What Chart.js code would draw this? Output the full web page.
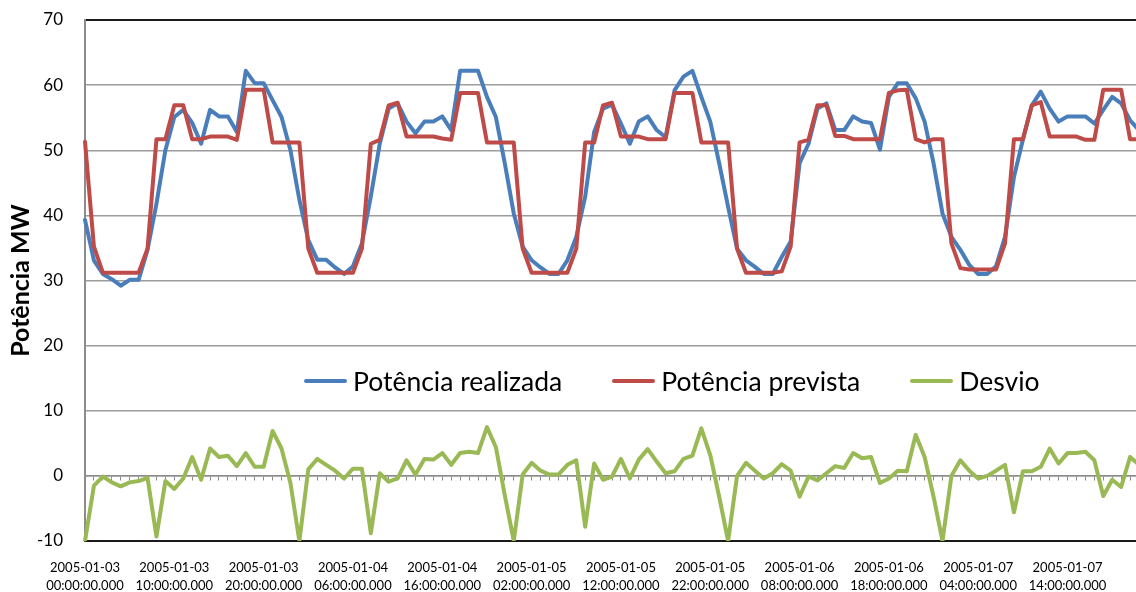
<!DOCTYPE html>
<html lang="pt">
<head>
    <meta charset="UTF-8">
    <title>Potência realizada vs prevista</title>
    <script src="https://cdn.jsdelivr.net/npm/chart.js"></script>
    <style>
        html, body { margin: 0; padding: 0; overflow: hidden; background: #fff; }
        #wrap { position: absolute; left: 0; top: 0; width: 1139px; height: 592px; }
        #legend { position: absolute; left: 304px; top: 365px; display: flex; align-items: center;
                  font-family: Lato, sans-serif; font-size: 26.5px; color: #000; white-space: nowrap; }
        #legend .item { display: flex; align-items: center; margin-right: 50px; }
        #legend .swatch { width: 43px; height: 4px; border-radius: 2px; margin-right: 6px; }
    </style>
</head>
<body>
    <div id="wrap"><canvas id="myChart"></canvas></div>
    <div id="legend"></div>
    <script>
        // hourly values, 2005-01-03 00:00 onwards
        const realizada = [
            39.3, 33.1, 31.0, 30.2, 29.2, 30.1, 30.1, 34.7, 41.8, 50.0,
            55.1, 56.2, 54.2, 51.0, 56.2, 55.2, 55.2, 52.8, 62.2, 60.3,
            60.3, 57.7, 55.1, 50.0, 42.4, 36.2, 33.2, 33.2, 32.0, 31.0,
            32.2, 35.7, 42.9, 51.0, 56.4, 57.2, 54.4, 52.6, 54.4, 54.4,
            55.2, 53.1, 62.2, 62.2, 62.2, 58.2, 55.1, 48.0, 40.3, 35.2,
            33.1, 32.0, 31.0, 31.0, 33.1, 36.7, 42.9, 52.8, 56.4, 57.0,
            54.1, 51.0, 54.4, 55.2, 53.1, 52.0, 59.2, 61.3, 62.2, 58.2,
            54.4, 48.0, 41.3, 34.9, 33.1, 32.1, 31.0, 31.0, 33.6, 36.0,
            48.0, 51.0, 56.4, 57.2, 53.1, 53.1, 55.2, 54.4, 54.2, 50.1,
            58.2, 60.3, 60.3, 58.0, 54.4, 48.0, 40.3, 36.7, 34.7, 32.4,
            31.0, 31.0, 32.2, 36.7, 45.9, 51.6, 56.9, 59.0, 56.4, 54.4,
            55.2, 55.2, 55.2, 54.1, 56.2, 58.2, 57.2, 54.6, 53.1
        ];
        const prevista = [
            51.3, 35.2, 31.2, 31.2, 31.2, 31.2, 31.2, 34.9, 51.7, 51.7,
            56.9, 56.9, 51.7, 51.7, 52.1, 52.1, 52.1, 51.6, 59.3, 59.3,
            59.3, 51.2, 51.2, 51.2, 51.2, 34.9, 31.2, 31.2, 31.2, 31.2,
            31.2, 34.9, 51.0, 51.6, 56.9, 57.3, 52.1, 52.1, 52.1, 52.1,
            51.8, 51.6, 58.8, 58.8, 58.8, 51.2, 51.2, 51.2, 51.2, 34.9,
            31.2, 31.2, 31.2, 31.2, 31.2, 34.9, 51.2, 51.2, 56.9, 57.3,
            52.1, 52.1, 52.1, 51.7, 51.7, 51.7, 58.8, 58.8, 58.8, 51.2,
            51.2, 51.2, 51.2, 34.9, 31.2, 31.2, 31.2, 31.2, 31.4, 35.2,
            51.2, 51.6, 56.9, 56.9, 52.2, 52.2, 51.7, 51.7, 51.7, 51.7,
            58.8, 59.2, 59.3, 51.7, 51.2, 51.7, 51.7, 35.7, 31.9, 31.7,
            31.7, 31.7, 31.7, 35.7, 51.7, 51.7, 56.9, 57.4, 52.1, 52.1,
            52.1, 52.1, 51.6, 51.6, 59.3, 59.3, 59.3, 51.7, 51.7
        ];
        const desvio = [
            -10, -1.5, -0.1, -1.0, -1.6, -1.0, -0.8, -0.3, -9.3, -0.8,
            -2.0, -0.4, 2.9, -0.6, 4.2, 2.9, 3.1, 1.5, 3.5, 1.4,
            1.4, 6.9, 4.2, -1.1, -10, 1.0, 2.6, 1.7, 0.8, -0.4,
            1.1, 1.1, -8.8, 0.4, -0.9, -0.4, 2.4, 0.2, 2.6, 2.5,
            3.5, 1.7, 3.5, 3.7, 3.5, 7.5, 4.4, -3.0, -10, 0.2,
            2.0, 0.8, 0.2, 0.2, 1.7, 2.4, -7.8, 1.9, -0.6, -0.1,
            2.6, -0.4, 2.5, 4.1, 2.2, 0.4, 0.7, 2.6, 3.1, 7.3,
            3.2, -3.2, -10, 0.0, 2.0, 0.8, -0.4, 0.4, 1.8, 0.8,
            -3.2, -0.1, -0.7, 0.4, 1.5, 1.2, 3.5, 2.7, 2.9, -1.1,
            -0.4, 0.8, 0.7, 6.3, 2.9, -3.2, -10, 0.0, 2.4, 0.8,
            -0.4, 0.0, 0.8, 1.7, -5.6, 0.7, 0.7, 1.4, 4.2, 1.9,
            3.5, 3.5, 3.7, 2.4, -3.1, -0.6, -1.7, 2.9, 1.7
        ];

        const seriesNames = ['Potência realizada', 'Potência prevista', 'Desvio'];
        const seriesColors = ['#4A7EBB', '#BE4B48', '#98B954'];
        const yTicks = { min: -10, max: 70, step: 10 };
        const labelStep = 10; // one date label every 10 hours

        // category labels: one per hour
        const startTime = Date.UTC(2005, 0, 3, 0, 0, 0);
        const categories = [];
        for (let h = 0; h < realizada.length; h++) {
            const iso = new Date(startTime + h * 3600000).toISOString();
            categories.push(iso.slice(0, 10) + ' ' + iso.slice(11, 23));
        }

        const font = 'Lato, sans-serif';
        const hidden = 'rgba(0,0,0,0)';

        function makeSet(i, values) {
            return {
                label: seriesNames[i],
                data: values,
                borderColor: seriesColors[i],
                backgroundColor: seriesColors[i],
                borderWidth: 4,
                pointRadius: 0,
                tension: 0,
                borderJoinStyle: 'round',
                borderCapStyle: 'round',
                xAxisID: 'x',
                order: 3 - i
            };
        }

        const ctx = document.getElementById('myChart').getContext('2d');
        const chart = new Chart(ctx, {
            type: 'line',
            data: {
                labels: categories,
                datasets: [makeSet(0, realizada), makeSet(1, prevista), makeSet(2, desvio)]
            },
            options: {
                responsive: true,
                maintainAspectRatio: false,
                animation: false,
                layout: { padding: { top: 20, right: 0, bottom: 0, left: 0 } },
                plugins: {
                    legend: { display: false },
                    tooltip: { enabled: false }
                },
                scales: {
                    x: {
                        type: 'category',
                        position: 'bottom',
                        offset: false,
                        // invisible tick marks used as the gap between axis and labels
                        grid: { display: true, drawOnChartArea: false, drawTicks: true, tickLength: 18,
                                tickColor: hidden, color: hidden },
                        border: { display: true, color: '#1a1a1a', width: 2 },
                        ticks: {
                            autoSkip: false,
                            maxRotation: 0,
                            padding: 0,
                            color: '#000',
                            font: { family: font, size: 13, lineHeight: 1.4 },
                            callback: function(value, index) {
                                if (index % labelStep !== 0) return '';
                                return this.getLabelForValue(value).split(' ');
                            }
                        },
                        afterFit: s => { s.height = 51; }
                    },
                    xZero: {
                        type: 'category',
                        position: { y: 0 },
                        offset: false,
                        grid: { display: true, drawOnChartArea: false, drawTicks: true, tickLength: 4,
                                tickColor: '#8c8c8c', tickWidth: 1 },
                        border: { display: true, color: '#8c8c8c', width: 1.5 },
                        ticks: { display: false, autoSkip: false, padding: 0 }
                    },
                    y: {
                        min: yTicks.min,
                        max: yTicks.max,
                        grid: {
                            drawTicks: true,
                            tickLength: 22,
                            tickColor: hidden,
                            color: c => (c.tick && (c.tick.value === yTicks.max || c.tick.value === yTicks.min)) ? '#1a1a1a' : '#9c9c9c',
                            lineWidth: c => (c.tick && c.tick.value === yTicks.max) ? 2 : 1.5
                        },
                        border: { display: true, color: '#8c8c8c', width: 2 },
                        ticks: {
                            stepSize: yTicks.step,
                            padding: 0,
                            color: '#000',
                            font: { family: font, size: 17 }
                        },
                        title: {
                            display: true,
                            text: 'Potência MW',
                            color: '#000',
                            font: { family: font, size: 25, weight: 'bold' },
                            padding: { top: 6, bottom: 0 }
                        },
                        afterFit: s => { s.width = 85; }
                    }
                }
            }
        });

        // legend laid out in the middle of the plot, as in the original
        const legend = document.getElementById('legend');
        seriesNames.forEach((name, i) => {
            const item = document.createElement('span');
            item.className = 'item';
            const sw = document.createElement('span');
            sw.className = 'swatch';
            sw.style.background = seriesColors[i];
            const txt = document.createElement('span');
            txt.textContent = name;
            item.appendChild(sw);
            item.appendChild(txt);
            legend.appendChild(item);
        });
    </script>
</body>
</html>
